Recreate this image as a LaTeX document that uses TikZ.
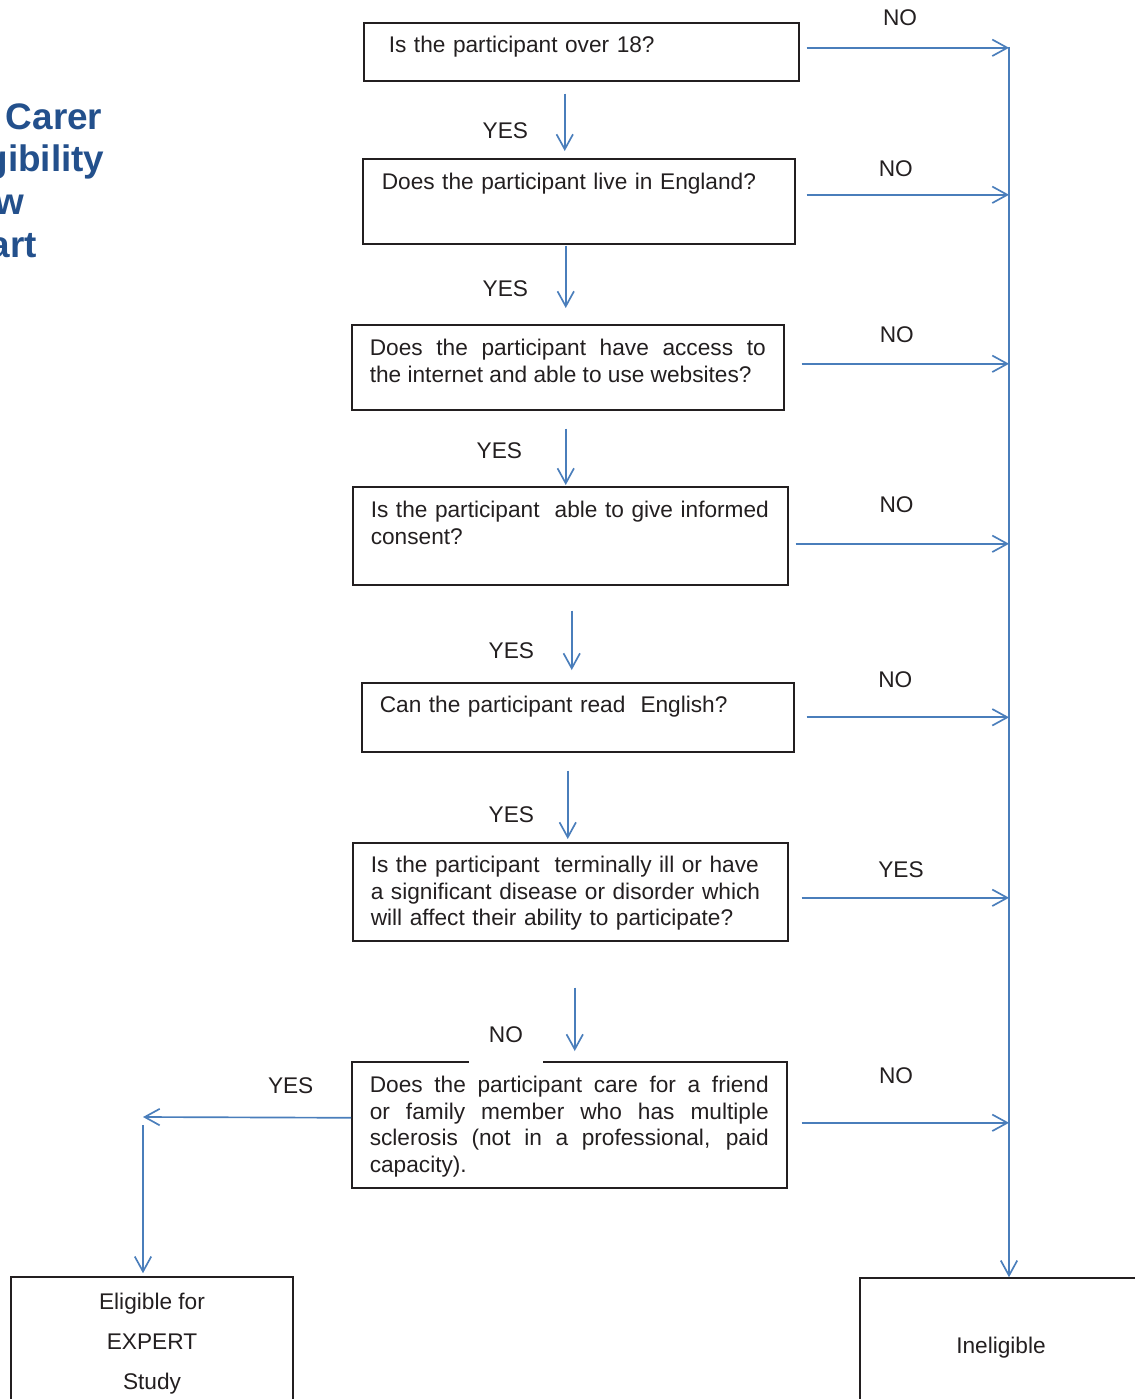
\documentclass[tikz,border=0pt]{standalone}
\usepackage{fontspec}
\setmainfont{Liberation Sans}
\usetikzlibrary{arrows.meta,positioning}
\definecolor{flowblue}{RGB}{74,126,187}
\definecolor{boxline}{RGB}{35,31,32}
\definecolor{titleblue}{RGB}{35,80,140}

\begin{document}
\begin{tikzpicture}[x=0.02cm,y=-0.02cm,
  every node/.style={text=boxline,font=\fontsize{12.9}{15.1}\selectfont},
  qbox/.style={draw=boxline,line width=0.9pt,anchor=north west,inner ysep=0pt,inner xsep=0.36cm},
  endbox/.style={draw=boxline,line width=0.9pt,minimum width=5.64cm,minimum height=2.68cm,align=center},
  arr/.style={draw=flowblue,line width=0.95pt,-{Straight Barb[length=0.3cm,width=0.33cm]}}]
\path[use as bounding box,clip] (0,0) rectangle (1135,1399);

\node[font=\fontsize{21}{24.2}\selectfont\bfseries,text=titleblue,align=left,anchor=base west,inner sep=0pt] (title) at (-60,257) {MS Carer\\Eligibility\\Flow\\Chart};

\node[qbox,text width=7.7cm,inner xsep=0.5cm,text height=0.6cm,text depth=0.56cm] (q1) at (363,22) {Is the participant over 18?};
\node[qbox,text width=7.88cm,inner xsep=0.38cm,text height=0.62cm,text depth=1.08cm] (q2) at (362,158) {Does the participant live in England?};
\node[qbox,text width=7.92cm,text height=0.62cm,text depth=1.08cm,align=justify] (q3) at (351,324) {Does the participant have access to\linebreak the internet and able to use websites?};
\node[qbox,text width=7.98cm,text height=0.62cm,text depth=1.34cm,align=left] (q4) at (352,486) {\mbox{Is the participant~ able to give informed}\\consent?};
\node[qbox,text width=7.92cm,text height=0.6cm,text depth=0.78cm] (q5) at (361,682) {Can the participant read~ English?};
\node[qbox,text width=7.98cm,text height=0.6cm,text depth=1.36cm,align=left] (q6) at (352,842) {Is the participant~ terminally ill or have\\a significant disease or disorder which\\will affect their ability to participate?};
\node[qbox,text width=7.98cm,text height=0.62cm,text depth=1.9cm,align=justify] (q7) at (351,1061) {Does the participant care for a friend\linebreak or family member who has multiple\linebreak sclerosis (not in a professional, paid\linebreak capacity).};

\node[endbox,font=\fontsize{12.9}{22.7}\selectfont] (elig) at (152,1344) {Eligible for\\EXPERT\\Study};
\node[endbox,text depth=0pt] (inel) at (1001,1345) {Ineligible};

\coordinate (spine) at (1009,47);
\coordinate (yesend) at (143,1117);

\draw[arr,shorten <=0.24cm,shorten >=0.14cm] ([xshift=-0.33cm]q1.south) -- ([xshift=-0.33cm]q1.south |- q2.north) node[pos=.64,left=0.6cm] {YES};
\draw[arr,shorten <=0.02cm,shorten >=0.32cm] ([xshift=-0.26cm]q2.south) -- ([xshift=-0.26cm]q2.south |- q3.north) node[pos=.56,left=0.62cm] {YES};
\draw[arr,shorten <=0.36cm,shorten >=0.02cm] ([xshift=-0.04cm]q3.south) -- ([xshift=-0.04cm]q3.south |- q4.north) node[pos=.53,left=0.74cm] {YES};
\draw[arr,shorten <=0.5cm,shorten >=0.24cm] ([xshift=0.03cm]q4.south) -- ([xshift=0.03cm]q4.south |- q5.north) node[pos=.68,left=0.62cm] {YES};
\draw[arr,shorten <=0.36cm,shorten >=0.06cm] ([xshift=-0.2cm]q5.south) -- ([xshift=-0.2cm]q5.south |- q6.north) node[pos=.69,left=0.54cm] {YES};
\draw[arr,shorten <=0.92cm,shorten >=0.2cm] ([xshift=0.09cm]q6.south) -- ([xshift=0.09cm]q6.south |- q7.north) node[pos=.78,left=0.62cm,fill=white,inner xsep=0.4cm,inner ysep=0.4cm] {NO};

\draw[arr,shorten <=0.14cm] ([yshift=0.08cm]q1.east) -- ([yshift=0.08cm]q1.east -| spine) node[pos=.48,above=0.3cm] {NO};
\draw[arr,shorten <=0.22cm] ([yshift=0.13cm]q2.east) -- ([yshift=0.13cm]q2.east -| spine) node[pos=.47,above=0.22cm] {NO};
\draw[arr,shorten <=0.34cm] ([yshift=0.07cm]q3.east) -- ([yshift=0.07cm]q3.east -| spine) node[pos=.5,above=0.28cm] {NO};
\draw[arr,shorten <=0.14cm] ([yshift=-0.16cm]q4.east) -- ([yshift=-0.16cm]q4.east -| spine) node[pos=.49,above=0.48cm] {NO};
\draw[arr,shorten <=0.24cm] (q5.east) -- (q5.east -| spine) node[pos=.47,above=0.46cm] {NO};
\draw[arr,shorten <=0.26cm] ([yshift=-0.12cm]q6.east) -- ([yshift=-0.12cm]q6.east -| spine) node[pos=.51,above=0.26cm] {YES};
\draw[arr,shorten <=0.28cm] ([yshift=0.04cm]q7.east) -- ([yshift=0.04cm]q7.east -| spine) node[pos=.49,above=0.64cm] {NO};
\draw[arr] (spine) -- (spine |- inel.north);

\draw[arr] ([yshift=0.14cm]q7.west) -- (yesend) node[pos=.29,above=0.34cm] {YES};
\draw[arr,shorten <=0.16cm,shorten >=0.06cm] (yesend) -- (yesend |- elig.north);
\end{tikzpicture}
\end{document}
